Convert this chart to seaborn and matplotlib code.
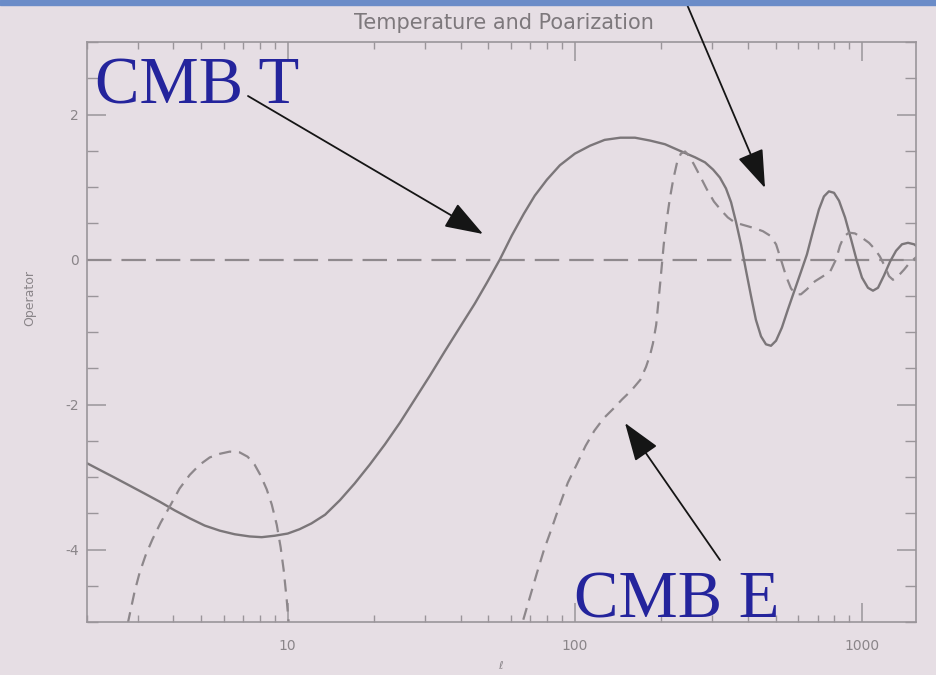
import numpy as np
import pandas as pd
import matplotlib
matplotlib.use("Agg")
import matplotlib.pyplot as plt
from matplotlib.patches import Rectangle
from matplotlib.ticker import FixedLocator, NullFormatter, LogLocator
import seaborn as sns

# ---- data: multipole ell and operator value ----
ell_T = [2.0, 2.21, 2.50, 2.82, 3.18, 3.58, 4.04, 4.56, 5.14, 5.80, 6.54, 7.37,
         8.12, 9.01, 10.0, 11.0, 12.1, 13.5, 15.2, 17.1, 19.3, 21.8, 24.6, 27.7,
         31.3, 35.2, 39.7, 44.8, 49.4, 54.8, 60.3, 66.4, 72.5, 79.9, 88.7, 100,
         113, 127, 144, 162, 183, 206, 232, 262, 284, 303, 320, 336, 350, 364,
         379, 394, 411, 427, 445, 463, 482, 502, 526, 552, 584, 613, 643, 675,
         708, 737, 767, 799, 832, 873, 916, 961, 1000, 1049, 1092, 1137, 1193,
         1252, 1314, 1378, 1446, 1518, 1592]
op_T = [-2.81, -2.90, -3.01, -3.12, -3.23, -3.34, -3.46, -3.57, -3.67, -3.74,
        -3.79, -3.82, -3.83, -3.81, -3.78, -3.72, -3.64, -3.52, -3.32, -3.09,
        -2.83, -2.55, -2.25, -1.93, -1.60, -1.27, -0.94, -0.61, -0.32, 0.0, 0.33,
        0.63, 0.88, 1.10, 1.30, 1.46, 1.57, 1.65, 1.68, 1.68, 1.64, 1.59, 1.50,
        1.41, 1.34, 1.24, 1.13, 0.98, 0.79, 0.52, 0.21, -0.14, -0.51, -0.83,
        -1.06, -1.17, -1.19, -1.12, -0.94, -0.69, -0.41, -0.17, 0.07, 0.39, 0.69,
        0.87, 0.94, 0.92, 0.81, 0.58, 0.28, -0.03, -0.25, -0.39, -0.43, -0.39,
        -0.22, -0.03, 0.12, 0.21, 0.23, 0.21, 0.15]

ell_E_low = [2.77, 2.84, 2.93, 3.05, 3.20, 3.38, 3.61, 3.88, 4.20, 4.56, 4.94,
             5.35, 5.80, 6.28, 6.80, 7.25, 7.67, 8.05, 8.45, 8.80, 9.16, 9.45,
             9.68, 9.92, 10.16]
op_E_low = [-5.03, -4.83, -4.58, -4.32, -4.08, -3.86, -3.63, -3.41, -3.16, -2.97,
            -2.83, -2.73, -2.68, -2.65, -2.66, -2.72, -2.83, -2.98, -3.17, -3.38,
            -3.66, -3.97, -4.28, -4.69, -5.17]

ell_E_high = [64.3, 65.9, 69.7, 73.7, 78.0, 83.2, 88.7, 94.5, 102, 109, 117, 126,
              136, 146, 157, 169, 177, 183, 187, 192, 195, 198, 201, 204, 209,
              214, 220, 227, 234, 242, 250, 260, 273, 288, 305, 323, 341, 361,
              391, 424, 452, 478, 502, 522, 544, 566, 589, 613, 643, 686, 732,
              774, 812, 838, 866, 901, 945, 1000, 1058, 1110, 1155, 1203, 1242,
              1282, 1335, 1401, 1469, 1542, 1618]
op_E_high = [-5.24, -4.99, -4.66, -4.33, -4.01, -3.70, -3.38, -3.08, -2.81, -2.57,
             -2.36, -2.19, -2.06, -1.93, -1.81, -1.66, -1.48, -1.31, -1.16, -0.90,
             -0.62, -0.35, -0.07, 0.21, 0.55, 0.83, 1.10, 1.34, 1.46, 1.49, 1.43,
             1.31, 1.15, 0.97, 0.80, 0.68, 0.58, 0.51, 0.47, 0.43, 0.39, 0.33, 0.21,
             0.0, -0.23, -0.40, -0.48, -0.48, -0.41, -0.30, -0.23, -0.17, 0.0,
             0.19, 0.32, 0.37, 0.36, 0.30, 0.23, 0.14, 0.04, -0.10, -0.23, -0.28,
             -0.23, -0.14, -0.04, 0.03, 0.08]

x_ticks = [10, 100, 1000]
x_tick_labels = ["10", "100", "1000"]
y_ticks = [-4, -2, 0, 2]
y_tick_labels = ["-4", "-2", "0", "2"]

W, H = 936, 675
BG = "#e6dee4"
BLUE = "#24249c"

sns.set_theme(style="ticks")
plt.rcParams["font.family"] = ["DejaVu Sans"]

fig = plt.figure(figsize=(W / 100, H / 100), dpi=100, facecolor=BG)
ax = fig.add_axes([87 / W, 53 / H, 829 / W, 580 / H])
ax.set_facecolor(BG)

# thin window bar along the top edge
fig.patches.append(Rectangle((0, 1 - 5 / H), 1, 5 / H, transform=fig.transFigure,
                             color="#6b8cc8", zorder=0))

df_T = pd.DataFrame({"ell": ell_T, "op": op_T})
df_El = pd.DataFrame({"ell": ell_E_low, "op": op_E_low})
df_Eh = pd.DataFrame({"ell": ell_E_high, "op": op_E_high})

ax.axhline(0, color="#8f898d", lw=1.6, ls=(0, (11, 4.5)), zorder=1)
sns.lineplot(data=df_T, x="ell", y="op", ax=ax, color="#7b7679", lw=1.7,
             estimator=None, sort=False)
for d in (df_El, df_Eh):
    sns.lineplot(data=d, x="ell", y="op", ax=ax, color="#8d878b", lw=1.6,
                 estimator=None, sort=False, linestyle=(0, (5.5, 3.5)))

ax.set_xscale("log")
ax.set_xlim(2, 1542)
ax.set_ylim(-5, 3)

ax.xaxis.set_major_locator(FixedLocator(x_ticks))
ax.set_xticklabels(x_tick_labels)
ax.xaxis.set_minor_locator(LogLocator(base=10, subs=np.arange(2, 10)))
ax.xaxis.set_minor_formatter(NullFormatter())
ax.yaxis.set_major_locator(FixedLocator(y_ticks))
ax.set_yticklabels(y_tick_labels)
ax.yaxis.set_minor_locator(FixedLocator(np.arange(-5, 3.01, 0.5)))

for s in ax.spines.values():
    s.set_color("#9a959a")
    s.set_linewidth(1.2)

ax.tick_params(axis="both", which="both", direction="in", top=True, right=True,
               color="#9a959a", labelcolor="#8a8589", labelsize=10)
ax.tick_params(axis="y", which="major", length=14, width=1.1, pad=6)
ax.tick_params(axis="y", which="minor", length=8, width=1.0)
ax.tick_params(axis="x", which="major", length=14, width=1.1, pad=12)
ax.tick_params(axis="x", which="minor", length=5, width=1.0)

ax.set_xlabel("")
ax.set_ylabel("")


def fpx(x, y):
    # top-left pixel position -> figure pixels
    return (x, H - y)


fig.text(504 / W, 1 - 23 / H, "Temperature and Poarization", ha="center",
         va="center", fontsize=15, color="#7d787c")
fig.text(30 / W, 1 - 298 / H, "Operator", rotation=90, ha="center", va="center",
         fontsize=9, color="#8a8589")
fig.text(500 / W, 1 - 666 / H, "\u2113", ha="center", va="center", fontsize=8,
         color="#8a8589")

serif = ["Liberation Serif", "DejaVu Serif"]
ax.annotate("CMB T", xy=fpx(95, 103), xycoords="figure pixels", fontsize=48,
            family=serif, color=BLUE, ha="left", va="baseline",
            annotation_clip=False)
ax.annotate("CMB E", xy=fpx(574, 618), xycoords="figure pixels", fontsize=48,
            family=serif, color=BLUE, ha="left", va="baseline",
            annotation_clip=False)

arrow = dict(arrowstyle="-|>,head_length=2.0,head_width=0.7", mutation_scale=12,
             color="#151515", lw=1.3, shrinkA=0, shrinkB=0)
for tail, tip in [((248, 96), (483, 234)), ((720, 560), (625, 423)),
                  ((680, -12), (765, 188))]:
    ax.annotate("", xy=fpx(*tip), xycoords="figure pixels", xytext=fpx(*tail),
                textcoords="figure pixels", arrowprops=arrow,
                annotation_clip=False)

fig.savefig("out.png", dpi=100, facecolor=BG)
